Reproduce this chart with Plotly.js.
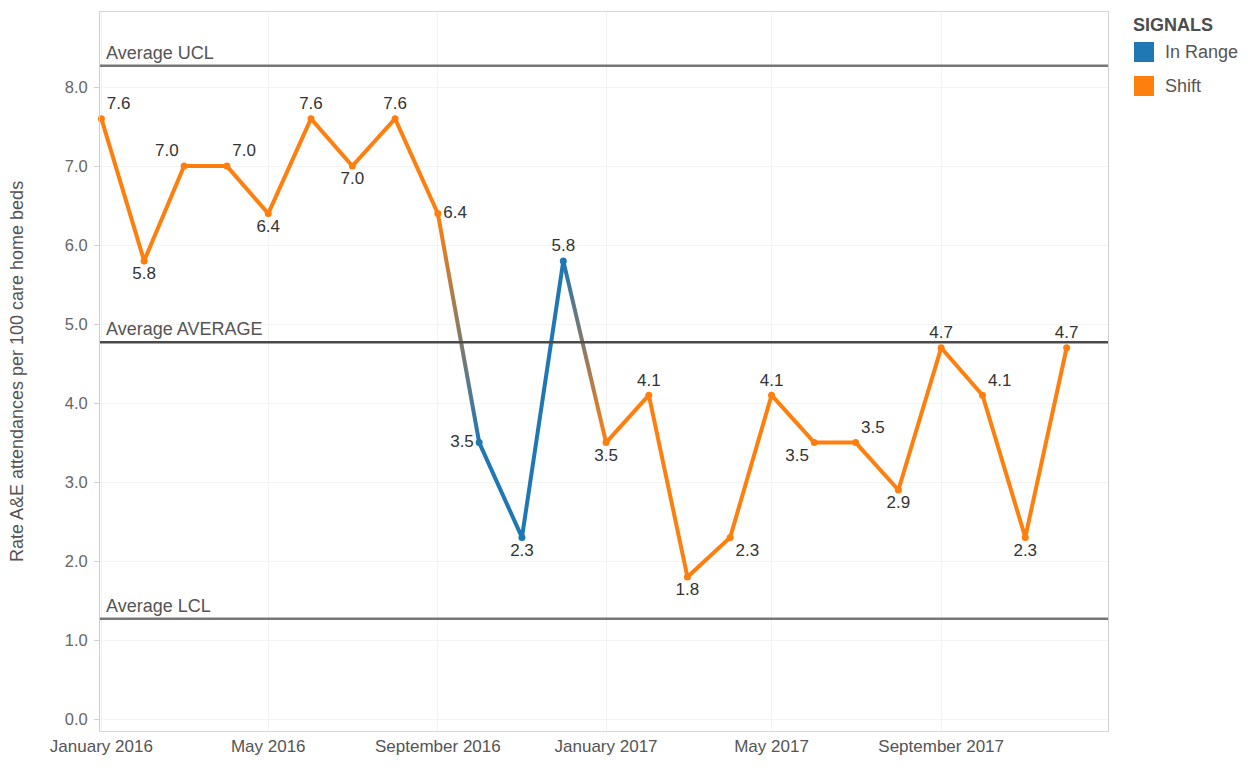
<!DOCTYPE html>
<html>
<head>
<meta charset="utf-8">
<script src="https://cdn.plot.ly/plotly-3.0.1.min.js"></script>
<style>
  html, body { margin: 0; padding: 0; background: #fff; }
  #chart { width: 1248px; height: 776px; }
</style>
</head>
<body>
<div id="chart"></div>
<script>
// ---------- data ----------
const months = ['2016-01-01','2016-02-01','2016-03-01','2016-04-01','2016-05-01','2016-06-01',
                '2016-07-01','2016-08-01','2016-09-01','2016-10-01','2016-11-01','2016-12-01',
                '2017-01-01','2017-02-01','2017-03-01','2017-04-01','2017-05-01','2017-06-01',
                '2017-07-01','2017-08-01','2017-09-01','2017-10-01','2017-11-01','2017-12-01'];
const rates = [7.6, 5.8, 7.0, 7.0, 6.4, 7.6, 7.0, 7.6, 6.4, 3.5, 2.3, 5.8,
               3.5, 4.1, 1.8, 2.3, 4.1, 3.5, 3.5, 2.9, 4.7, 4.1, 2.3, 4.7];
const signals = ['Shift','Shift','Shift','Shift','Shift','Shift','Shift','Shift','Shift',
                 'In Range','In Range','In Range',
                 'Shift','Shift','Shift','Shift','Shift','Shift','Shift','Shift','Shift','Shift','Shift','Shift'];
const signalNames = ['In Range', 'Shift'];
const refLineNames = ['Average UCL', 'Average AVERAGE', 'Average LCL'];
const refLineValues = [8.27, 4.77, 1.27];
const tickDates = ['2016-01-01','2016-05-01','2016-09-01','2017-01-01','2017-05-01','2017-09-01'];
const tickLabels = ['January 2016','May 2016','September 2016','January 2017','May 2017','September 2017'];
const yTitle = 'Rate A&E attendances per 100 care home beds';
const legendTitle = 'SIGNALS';

// ---------- styles ----------
const FONT = '"Liberation Sans", Arial, sans-serif';
const signalColors = { 'In Range': '#1f77b4', 'Shift': '#ff7f0e' };
const labelPositions = ['top right','bottom center','top left','top right','bottom center','top center',
                        'bottom center','top center','middle right','middle left','bottom center','top center',
                        'bottom center','top center','bottom center','bottom right','top center','bottom left',
                        'top right','bottom center','top center','top right','bottom center','top center'];
const refLineColors = ['#777777', '#4a4a4a', '#777777'];

// plot-area pixel frame, used for legend placement
const PL = 100, PR = 1108, PT = 12, PB = 731;
const px2paperX = px => (px - PL) / (PR - PL);
const px2paperY = py => (PB - py) / (PB - PT);

const traces = [];
const gradients = [];

// line runs by signal, with blended transition segments
let start = 0;
for (let i = 1; i <= rates.length; i++) {
  if (i === rates.length || signals[i] !== signals[start]) {
    const end = i - 1;
    traces.push({
      type: 'scatter', mode: 'lines',
      x: months.slice(start, end + 1), y: rates.slice(start, end + 1),
      line: { color: signalColors[signals[start]], width: 4 },
      hoverinfo: 'skip', showlegend: false
    });
    if (i < rates.length) {
      gradients.push({ trace: traces.length, from: signals[end], to: signals[i],
                       descending: rates[end] > rates[i] });
      traces.push({
        type: 'scatter', mode: 'lines',
        x: [months[end], months[i]], y: [rates[end], rates[i]],
        line: { color: '#8a7c72', width: 4 },
        hoverinfo: 'skip', showlegend: false
      });
    }
    start = i;
  }
}

// markers + value labels
traces.push({
  type: 'scatter', mode: 'markers+text',
  x: months, y: rates,
  text: rates.map(v => v.toFixed(1)),
  textposition: labelPositions,
  textfont: { family: FONT, size: 17, color: '#333333' },
  marker: { size: 7, color: signals.map(s => signalColors[s]) },
  customdata: signals,
  hovertemplate: '%{x|%B %Y}<br>%{y:.1f}<br>%{customdata}<extra></extra>',
  showlegend: false, cliponaxis: false
});

const shapes = refLineValues.map((v, k) => ({
  type: 'line', xref: 'paper', x0: 0, x1: 1, yref: 'y', y0: v, y1: v,
  line: { color: refLineColors[k], width: 2.5 }
}));
const annotations = refLineValues.map((v, k) => ({
  xref: 'paper', x: 0.004, yref: 'y', y: v,
  xanchor: 'left', yanchor: 'bottom', yshift: 1,
  text: refLineNames[k], showarrow: false,
  font: { family: FONT, size: 18, color: '#555555' }
}));

// manual legend
annotations.push({
  xref: 'paper', yref: 'paper', x: px2paperX(1131), y: px2paperY(25),
  xanchor: 'left', yanchor: 'middle', showarrow: false,
  text: '<b>' + legendTitle + '</b>',
  font: { family: FONT, size: 18, color: '#4d4d4d' }
});
signalNames.forEach((name, k) => {
  const cy = 52 + k * 34;
  shapes.push({
    type: 'rect', xref: 'paper', yref: 'paper',
    x0: px2paperX(1134), x1: px2paperX(1154),
    y0: px2paperY(cy - 10), y1: px2paperY(cy + 10),
    fillcolor: signalColors[name], line: { width: 0 }
  });
  annotations.push({
    xref: 'paper', yref: 'paper', x: px2paperX(1163), y: px2paperY(cy),
    xanchor: 'left', yanchor: 'middle', showarrow: false,
    text: name, font: { family: FONT, size: 18, color: '#555555' }
  });
});

const layout = {
  width: 1248, height: 776,
  margin: { l: PL, r: 1248 - PR, t: PT, b: 776 - PB },
  paper_bgcolor: '#ffffff', plot_bgcolor: '#ffffff',
  font: { family: FONT, size: 17, color: '#555555' },
  showlegend: false,
  xaxis: {
    type: 'date', range: ['2015-12-31', '2017-12-31'],
    tickmode: 'array', tickvals: tickDates, ticktext: tickLabels,
    tickfont: { family: FONT, size: 17, color: '#555555' },
    showgrid: true, gridcolor: '#f3f3f3', gridwidth: 1,
    showline: true, linecolor: '#d6d6d6', linewidth: 1, mirror: true,
    ticks: '', zeroline: false, automargin: false
  },
  yaxis: {
    range: [-0.15, 8.95], tickmode: 'linear', tick0: 0, dtick: 1, tickformat: '.1f',
    tickfont: { family: FONT, size: 16.5, color: '#666666' },
    showgrid: true, gridcolor: '#f3f3f3', gridwidth: 1,
    showline: true, linecolor: '#cfcfcf', linewidth: 1, mirror: true,
    ticks: 'outside', ticklen: 5, tickcolor: '#d0d0d0', ticklabelstandoff: 3,
    zeroline: false, automargin: false,
    title: { text: yTitle, standoff: 36, font: { family: FONT, size: 18, color: '#555555' } }
  },
  shapes: shapes,
  annotations: annotations
};

const gd = document.getElementById('chart');
Plotly.newPlot(gd, traces, layout, { displayModeBar: false, responsive: false }).then(() => {
  // colour blend along transition segments
  const svg = gd.querySelector('svg.main-svg');
  let defs = svg.querySelector('defs');
  if (!defs) { defs = document.createElementNS('http://www.w3.org/2000/svg', 'defs'); svg.prepend(defs); }
  const groups = gd.querySelectorAll('.scatterlayer .trace');
  gradients.forEach((g, n) => {
    const path = groups[g.trace] && groups[g.trace].querySelector('path.js-line');
    if (!path) return;
    const id = 'segGrad' + n;
    const lg = document.createElementNS('http://www.w3.org/2000/svg', 'linearGradient');
    lg.setAttribute('id', id);
    lg.setAttribute('x1', '0'); lg.setAttribute('y1', '0');
    lg.setAttribute('x2', '0'); lg.setAttribute('y2', '1');
    const topCol = g.descending ? signalColors[g.from] : signalColors[g.to];
    const botCol = g.descending ? signalColors[g.to] : signalColors[g.from];
    [[0, topCol], [1, botCol]].forEach(([off, col]) => {
      const st = document.createElementNS('http://www.w3.org/2000/svg', 'stop');
      st.setAttribute('offset', off);
      st.setAttribute('stop-color', col);
      lg.appendChild(st);
    });
    defs.appendChild(lg);
    path.style.stroke = 'url(#' + id + ')';
  });
});
</script>
</body>
</html>
